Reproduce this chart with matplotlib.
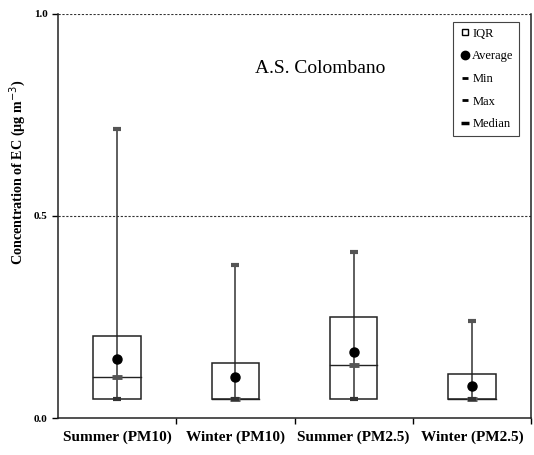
import matplotlib.pyplot as plt
from matplotlib.lines import Line2D

# EC concentration statistics per season / fraction (ug m-3)
categories = ["Summer (PM10)", "Winter (PM10)", "Summer (PM2.5)", "Winter (PM2.5)"]
q1_vals = [0.047, 0.047, 0.047, 0.047]
q3_vals = [0.203, 0.137, 0.250, 0.108]
median_vals = [0.102, 0.048, 0.132, 0.048]
mean_vals = [0.146, 0.101, 0.163, 0.079]
min_vals = [0.047, 0.047, 0.047, 0.047]
max_vals = [0.714, 0.378, 0.411, 0.239]

plt.rcParams['font.family'] = ['Liberation Serif', 'DejaVu Serif']

fig = plt.figure(figsize=(5.34, 4.55), dpi=100)
ax = fig.add_axes([0.1086, 0.0813, 0.8858, 0.8887])

half = 0.2
for i in range(len(categories)):
    # whisker from min to max
    ax.plot([i, i], [min_vals[i], max_vals[i]], color='#333333', lw=1.1, zorder=2)
    # IQR box
    ax.add_patch(plt.Rectangle((i - half, q1_vals[i]), 2 * half, q3_vals[i] - q1_vals[i],
                               fill=False, edgecolor='#222222', lw=1.1, zorder=3))
    # median line across the box
    ax.plot([i - half, i + half], [median_vals[i], median_vals[i]], color='#222222', lw=1.0, zorder=3)
    ax.plot(i, median_vals[i], marker='_', color='#555555', markersize=7, mew=3.5, zorder=4)
    ax.plot(i, min_vals[i], marker='_', color='#333333', markersize=6, mew=3, zorder=4)
    ax.plot(i, max_vals[i], marker='_', color='#555555', markersize=6, mew=3, zorder=4)
    ax.plot(i, mean_vals[i], marker='o', color='black', markersize=6.5, zorder=5)

ax.set_xlim(-0.5, 3.5)
ax.set_ylim(0, 1.0)

# dashed reference lines
for yv in (0.5, 1.0):
    ax.axhline(yv, color='#333333', lw=0.8, ls=(0, (2, 1.5)), zorder=1)

ax.spines['top'].set_visible(False)
for s in ('left', 'bottom', 'right'):
    ax.spines[s].set_linewidth(1.1)
    ax.spines[s].set_color('#222222')

ax.set_yticks([0.0, 0.5, 1.0])
ax.set_yticklabels(['0.0', '0.5', '1.0'], fontsize=8, fontweight='bold')
ax.tick_params(axis='y', direction='out', length=4, width=1)

ax.set_xticks(range(len(categories)))
ax.set_xticklabels(categories, fontsize=11, fontweight='bold')
ax.set_xticks([0.5, 1.5, 2.5, 3.5], minor=True)
ax.tick_params(axis='x', which='major', length=0, pad=9)
ax.tick_params(axis='x', which='minor', direction='out', length=4, width=1)

ax.set_ylabel('Concentration of EC (\u03bcg m$^{-3}$)', fontsize=10.2, fontweight='bold')
ax.yaxis.set_label_coords(-0.064, 0.607)

ax.text(1.72, 0.864, 'A.S. Colombano', fontsize=14, ha='center', va='center')

handles = [
    Line2D([], [], ls='none', marker='s', markerfacecolor='white', markeredgecolor='black', markersize=5),
    Line2D([], [], ls='none', marker='o', color='black', markersize=6),
    Line2D([], [], ls='none', marker='_', color='black', markersize=5, mew=2),
    Line2D([], [], ls='none', marker='_', color='black', markersize=5, mew=2),
    Line2D([], [], ls='none', marker='_', color='black', markersize=6, mew=2.5),
]
leg = ax.legend(handles, ['IQR', 'Average', 'Min', 'Max', 'Median'], loc='upper right',
                bbox_to_anchor=(0.975, 0.979), borderaxespad=0, fontsize=9,
                handlelength=1.0, handletextpad=0.1, labelspacing=0.85, borderpad=0.45,
                fancybox=False, framealpha=1)
leg.get_frame().set_edgecolor('#444444')
leg.get_frame().set_linewidth(0.8)

plt.savefig('out.png', dpi=100)
